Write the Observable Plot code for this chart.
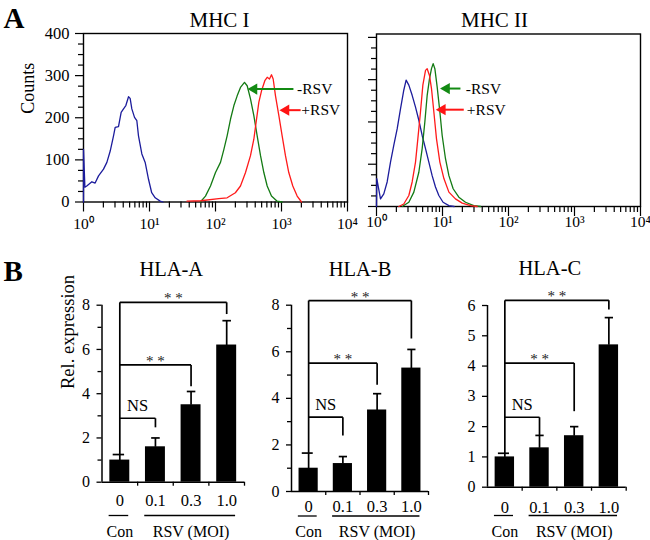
<!DOCTYPE html>
<html><head><meta charset="utf-8">
<script src="https://cdn.jsdelivr.net/npm/d3@7"></script>
<script src="https://cdn.jsdelivr.net/npm/@observablehq/plot@0.6"></script>
<style>
body{margin:0;background:#fff;}
#fig{position:relative;width:650px;height:540px;overflow:hidden;background:#fff;}
#fig > svg{position:absolute;}
#fig text{font-family:"Liberation Serif","Times New Roman",serif !important;}
</style></head><body><div id="fig"></div>
<script>
// ---------- data ----------
const decadeTicks = [1, 10, 100, 1000, 10000];
const decadeLabels = ["10⁰", "10¹", "10²", "10³", "10⁴"];
const minorMultipliers = [2, 3, 4, 5, 6, 7, 8, 9];
const countTicks = [0, 100, 200, 300, 400];
const countMinorTicks = [25, 50, 75, 125, 150, 175, 225, 250, 275, 325, 350, 375];

// MHC I histograms: [fluorescence, counts]
const mhc1Isotype = [[1.0,0],[1.0,125],[1.05,35],[1.12,38],[1.34,48],[1.5,45],[1.69,62],[2.01,78],[2.26,94],[2.54,121],[2.85,157],[3.02,177],[3.39,179],[3.72,213],[4.04,221],[4.38,229],[4.81,250],[5.09,246],[5.4,221],[5.93,201],[6.43,193],[6.81,157],[7.66,114],[8.6,94],[9.66,54],[10.8,22],[12.2,10],[14.5,2],[16,0]];
const mhc1Mock = [[59,0],[70.5,14],[84,38],[100,70],[119,94],[134,125],[150,157],[169,197],[190,229],[213,252],[239,272],[275,284],[302,276],[339,245],[381,205],[428,157],[481,110],[540,70],[607,38],[705,14],[860,2],[1023,0]];
const mhc1RSV = [[37,2],[60,3],[112,8],[150,10],[200,22],[239,38],[285,70],[339,110],[381,149],[412,189],[454,237],[498,264],[559,288],[607,296],[658,292],[705,302],[748,292],[811,252],[912,205],[1023,157],[1148,110],[1289,70],[1483,38],[1727,14],[2010,0]];
// MHC II histograms
const mhc2Isotype = [[1.0,0],[1.01,66],[1.15,18],[1.29,30],[1.45,58],[1.63,105],[1.83,145],[2.06,184],[2.31,231],[2.59,275],[2.81,299],[3.09,287],[3.47,263],[3.9,235],[4.38,204],[4.92,168],[5.53,137],[6.21,105],[6.97,73],[7.83,46],[8.8,26],[10.2,10],[12.5,2],[15,0]];
const mhc2Mock = [[2.45,0],[3.09,10],[3.68,34],[4.38,81],[4.92,137],[5.4,200],[5.86,263],[6.35,302],[6.81,326],[7.22,338],[7.66,326],[8.3,283],[9.12,224],[9.89,168],[11.1,113],[12.5,73],[14.5,42],[17.7,22],[22.3,10],[29.8,2],[37.7,0]];
const mhc2RSV = [[2.18,0],[2.59,6],[3.09,26],[3.47,58],[3.9,105],[4.23,160],[4.64,224],[5.04,287],[5.53,322],[5.86,326],[6.35,310],[6.81,279],[7.39,224],[8.11,160],[9.12,105],[10.5,66],[12.5,34],[15.7,18],[19.9,8],[26.6,2],[33.5,0]];

const histTitles = ["MHC I", "MHC II"];
const mhc1Arrows = [
  {label: "-RSV", tail: 1516, head: 339, y: 268, tx: 1720, color: "#138a13"},
  {label: "+RSV", tail: 1950, head: 1035, y: 218, tx: 2000, color: "#ff1414"}
];
const mhc2Arrows = [
  {label: "-RSV", tail: 18.7, head: 10.2, y: 279, tx: 22.6, color: "#138a13"},
  {label: "+RSV", tail: 21, head: 8.8, y: 229, tx: 23.4, color: "#ff1414"}
];

// Panel B
const hlaTitles = ["HLA-A", "HLA-B", "HLA-C"];
const doses = ["0", "0.1", "0.3", "1.0"];
const groupLabels = ["Con", "RSV (MOI)"];
const hlaA_mean = [1.0, 1.6, 3.5, 6.2];
const hlaA_err = [0.25, 0.4, 0.6, 1.1];
const hlaB_mean = [1.0, 1.2, 3.5, 5.3];
const hlaB_err = [0.65, 0.3, 0.7, 0.8];
const hlaC_mean = [1.0, 1.3, 1.7, 4.7];
const hlaC_err = [0.12, 0.41, 0.3, 0.9];
const hlaA_brackets = [{to: 1, y: 2.89, drop: 2.48, label: "NS"}, {to: 2, y: 5.3, drop: 4.34, label: "* *"}, {to: 3, y: 8.13, drop: 7.6, label: "* *"}];
const hlaB_brackets = [{to: 1, y: 3.19, drop: 2.4, label: "NS"}, {to: 2, y: 5.51, drop: 4.58, label: "* *"}, {to: 3, y: 8.2, drop: 6.57, label: "* *"}];
const hlaC_brackets = [{to: 1, y: 2.31, drop: 1.71, label: "NS"}, {to: 2, y: 4.1, drop: 2.51, label: "* *"}, {to: 3, y: 6.17, drop: 5.87, label: "* *"}];
const yTicksAB = [0, 2, 4, 6, 8];
const yMinorAB = [1, 3, 5, 7];
const yTicksC = [0, 1, 2, 3, 4, 5, 6];

// ---------- drawing ----------
const SERIF = "Liberation Serif";
const fig = document.getElementById("fig");
function place(svg, left, top) {
  svg.style.left = left + "px";
  svg.style.top = top + "px";
  fig.appendChild(svg);
}
const baseStyle = {fontFamily: SERIF, fontSize: "16px", background: "transparent", overflow: "visible", color: "#000"};
const T = {fontFamily: SERIF, fill: "#000"};

function histPanel(cfg) {
  const minorX = decadeTicks.slice(0, -1).flatMap(d => minorMultipliers.map(m => d * m));
  const marks = [
    Plot.frame({stroke: "#000", strokeWidth: 1.4}),
    Plot.axisY({ticks: countMinorTicks, tickSize: 5, tickFormat: () => "", label: null, strokeWidth: 1.2}),
    Plot.axisY({ticks: countTicks, tickSize: 8, tickPadding: 6, label: null, strokeWidth: 1.2, fontSize: 16.5, fontFamily: SERIF,
                tickFormat: cfg.yLabels ? (d => String(d)) : (() => "")}),
    Plot.axisX({ticks: minorX, tickSize: 6, tickFormat: () => "", label: null, strokeWidth: 1.2}),
    Plot.axisX({ticks: decadeTicks, tickSize: 10, tickPadding: cfg.xPad, label: null, strokeWidth: 1.2, fontSize: 15.5, fontFamily: SERIF,
                tickFormat: d => decadeLabels[decadeTicks.indexOf(d)]}),
  ];
  for (const s of cfg.series) marks.push(Plot.line(s.data, {x: d => d[0], y: d => d[1], stroke: s.color, strokeWidth: 1.3}));
  for (const a of cfg.arrows) {
    marks.push(Plot.link([a], {x1: "tail", x2: "head", y1: "y", y2: "y", stroke: a.color, strokeWidth: 2}));
    marks.push(Plot.dot([a], {x: "head", y: "y", symbol: "triangle", rotate: -90, r: 4.2, fill: a.color, stroke: "none", dx: 3.5}));
    marks.push(Plot.text([a], {...T, x: "tx", y: "y", text: "label", textAnchor: "start", lineAnchor: "middle", fontSize: 15.5}));
  }
  marks.push(Plot.text([cfg.title], {...T, text: d => d, frameAnchor: "top", dx: cfg.titleDx, dy: cfg.titleDy, lineAnchor: "bottom", fontSize: 21}));
  if (cfg.ylabel) marks.push(Plot.text([cfg.ylabel], {...T, text: d => d, frameAnchor: "left", rotate: -90, lineAnchor: "bottom", dx: -50, dy: -4, fontSize: 18}));
  if (cfg.letter) marks.push(Plot.text([cfg.letter], {...T, text: d => d, frameAnchor: "top-left", textAnchor: "start", lineAnchor: "bottom", dx: cfg.letterDx, dy: -6, fontSize: 29, fontWeight: "bold"}));
  const svg = Plot.plot({
    width: cfg.w, height: cfg.h,
    marginLeft: cfg.mL, marginRight: cfg.mR, marginTop: cfg.mT, marginBottom: cfg.mB,
    x: {type: "log", domain: [1, 10000], axis: null},
    y: {domain: [0, cfg.yMax], axis: null},
    style: baseStyle,
    marks
  });
  place(svg, cfg.left, cfg.top);
}

function barPanel(cfg) {
  const rows = doses.map((dose, i) => ({i, dose, v: cfg.mean[i], e: cfg.mean[i] + cfg.err[i]}));
  const groups = [{label: groupLabels[0], from: 0, to: 0}, {label: groupLabels[1], from: 1, to: 3}];
  const topBracket = d3.max(cfg.brackets, b => b.y);
  const lw = 1.7;
  const marks = [
    Plot.rect(rows, {x1: d => d.i - 0.28, x2: d => d.i + 0.28, y1: () => 0, y2: "v", fill: "#000"}),
    Plot.link(rows, {x1: "i", x2: "i", y1: "v", y2: "e", stroke: "#000", strokeWidth: lw}),
    Plot.link(rows, {x1: d => d.i - (d.i === 0 ? 0.2 : 0.12), x2: d => d.i + 0.12, y1: "e", y2: "e", stroke: "#000", strokeWidth: lw}),
    Plot.link([rows[0]], {x1: "i", x2: "i", y1: "e", y2: () => topBracket, stroke: "#000", strokeWidth: lw}),
    Plot.link(cfg.brackets, {x1: () => 0, x2: "to", y1: "y", y2: "y", stroke: "#000", strokeWidth: lw}),
    Plot.link(cfg.brackets, {x1: "to", x2: "to", y1: "y", y2: "drop", stroke: "#000", strokeWidth: lw}),
    Plot.text(cfg.brackets.filter(b => b.label === "NS"), {...T, x: d => d.to / 2, y: "y", text: "label", lineAnchor: "bottom", dy: -7, fontSize: 16.5}),
    Plot.text(cfg.brackets.filter(b => b.label !== "NS"), {...T, x: d => d.to / 2, y: "y", text: "label", lineAnchor: "bottom", dy: 1, fontSize: 15, fill: "#222"}),
    Plot.ruleY([0], {x1: -0.5, x2: 3.5, stroke: "#000", strokeWidth: 1.5}),
    Plot.ruleX([-0.5], {y1: 0, y2: cfg.yMax, stroke: "#000", strokeWidth: 1.5}),
    Plot.axisY({ticks: cfg.yTicks, tickSize: 5, tickPadding: 7, label: null, fontSize: 16, fontFamily: SERIF, strokeWidth: 1.3, tickFormat: d => String(d)}),
    Plot.axisX({ticks: [0.5, 1.5, 2.5, 3.5], tickSize: 4, tickFormat: () => "", label: null, strokeWidth: 1.3}),
    Plot.text(rows, {...T, x: "i", y: () => 0, text: "dose", lineAnchor: "bottom", dy: cfg.labelDy, fontSize: 16.5}),
    Plot.ruleY(groups, {y: () => 0, x1: d => d.from - 0.3, x2: d => d.to + 0.25, dy: cfg.lineDy, stroke: "#000", strokeWidth: 1.3}),
    Plot.text(groups, {...T, x: d => (d.from + d.to) / 2, y: () => 0, text: "label", lineAnchor: "bottom", dy: cfg.groupDy, fontSize: 16}),
    Plot.text([cfg.title], {...T, text: d => d, frameAnchor: "top", dx: cfg.titleDx, dy: cfg.titleDy, lineAnchor: "bottom", fontSize: 20.5}),
  ];
  if (cfg.yMinor) marks.push(Plot.axisY({ticks: cfg.yMinor, tickSize: 4, tickFormat: () => "", label: null, strokeWidth: 1.3}));
  if (cfg.ylabel) marks.push(Plot.text([cfg.ylabel], {...T, text: d => d, frameAnchor: "left", rotate: -90, lineAnchor: "bottom", dx: -28.5, dy: -4.7, fontSize: 18.5}));
  if (cfg.letter) marks.push(Plot.text([cfg.letter], {...T, text: d => d, frameAnchor: "top-left", textAnchor: "start", lineAnchor: "bottom", dx: cfg.letterDx, dy: -24.7, fontSize: 29, fontWeight: "bold"}));
  const svg = Plot.plot({
    width: cfg.w, height: cfg.h,
    marginLeft: cfg.mL, marginRight: cfg.mR, marginTop: cfg.mT, marginBottom: cfg.mB,
    x: {type: "linear", domain: [-0.5, 3.5], axis: null},
    y: {domain: [0, cfg.yMax], axis: null},
    style: baseStyle,
    marks
  });
  place(svg, cfg.left, cfg.top);
}

histPanel({
  title: histTitles[0], letter: "A", letterDx: -80, ylabel: "Counts", yLabels: true,
  series: [{data: mhc1Isotype, color: "#1c1c9c"}, {data: mhc1Mock, color: "#137a13"}, {data: mhc1RSV, color: "#ff1a1a"}],
  arrows: mhc1Arrows,
  left: 0, top: 0, w: 360, h: 232, mL: 83, mR: 13, mT: 33, mB: 30.5, yMax: 400, xPad: 5.5, titleDx: 4, titleDy: -6.3
});
histPanel({
  title: histTitles[1], yLabels: false,
  series: [{data: mhc2Isotype, color: "#1c1c9c"}, {data: mhc2Mock, color: "#137a13"}, {data: mhc2RSV, color: "#ff1a1a"}],
  arrows: mhc2Arrows,
  left: 360, top: 0, w: 290, h: 232, mL: 16, mR: 10, mT: 33.5, mB: 26, yMax: 408, xPad: -1, titleDx: -14, titleDy: -7.5
});
barPanel({
  title: hlaTitles[0], letter: "B", letterDx: -98.5, ylabel: "Rel. expression",
  mean: hlaA_mean, err: hlaA_err, brackets: hlaA_brackets, yMax: 8, yTicks: yTicksAB, yMinor: yMinorAB,
  left: 0, top: 240, w: 250, h: 300, mL: 101.5, mR: 6, mT: 64.7, mB: 58.3,
  labelDy: 23.3, lineDy: 33.3, groupDy: 55, titleDx: -2, titleDy: -29.7
});
barPanel({
  title: hlaTitles[1],
  mean: hlaB_mean, err: hlaB_err, brackets: hlaB_brackets, yMax: 8, yTicks: yTicksAB, yMinor: yMinorAB,
  left: 250, top: 240, w: 190, h: 300, mL: 41, mR: 12, mT: 64.7, mB: 49,
  labelDy: 20.7, lineDy: 24.5, groupDy: 45.7, titleDx: 0, titleDy: -29.7
});
barPanel({
  title: hlaTitles[2],
  mean: hlaC_mean, err: hlaC_err, brackets: hlaC_brackets, yMax: 6, yTicks: yTicksC, yMinor: null,
  left: 440, top: 240, w: 210, h: 300, mL: 47, mR: 24.3, mT: 65, mB: 53.3,
  labelDy: 26, lineDy: 28.3, groupDy: 50, titleDx: -7, titleDy: -31
});
</script></body></html>
